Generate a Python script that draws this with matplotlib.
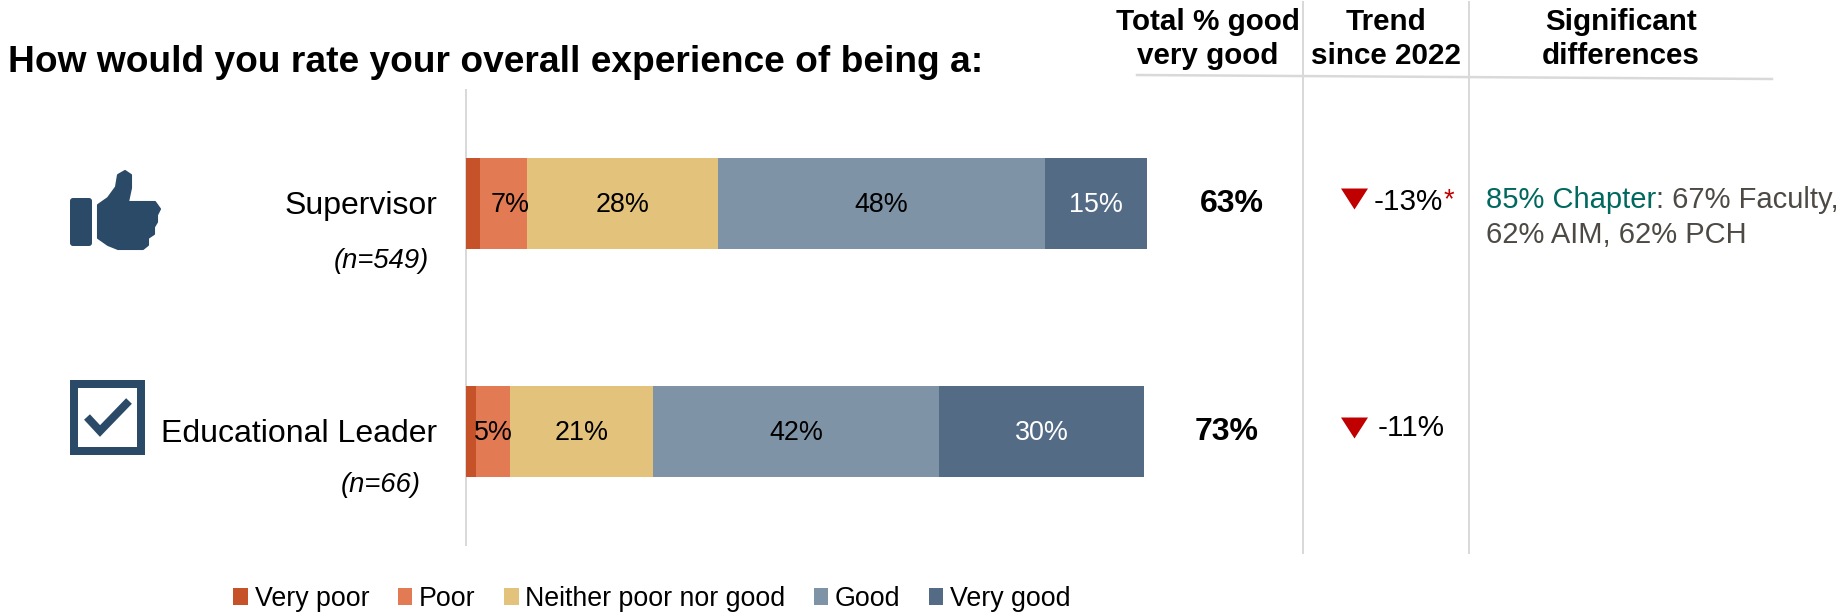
import matplotlib
matplotlib.use("Agg")
import matplotlib.pyplot as plt
from matplotlib.patches import Polygon, Rectangle, FancyBboxPatch

plt.rcParams["font.family"] = ["Liberation Sans", "DejaVu Sans"]

# --- data ---------------------------------------------------------------
ROLES = ["Supervisor", "Educational Leader"]
SAMPLE_SIZES = ["(n=549)", "(n=66)"]
RESPONSES = ["Very poor", "Poor", "Neither poor nor good", "Good", "Very good"]
SUPERVISOR = [2, 7, 28, 48, 15]
EDU_LEADER = [1.5, 5, 21, 42, 30]
TOTAL_GOOD = [63, 73]
TREND = [-13, -11]
TREND_SIGNIFICANT = [True, False]

COLORS = ["#C55228", "#E27A53", "#E3C27B", "#7F93A6", "#536B85"]
LABEL_COLORS = ["black", "black", "black", "black", "white"]
ICON_COLOR = "#2B4A67"
RULE_COLOR = "#D9D9D9"
RED = "#C00000"
W, H = 1844, 616

fig = plt.figure(figsize=(W / 100, H / 100), dpi=100, facecolor="white")

# overlay in pixel units for headers, icons and side columns
over = fig.add_axes([0, 0, 1, 1])
over.set_xlim(0, W)
over.set_ylim(H, 0)
over.axis("off")

# stacked bars
ax = fig.add_axes([466 / W, 1 - 545 / H, 681 / W, 455 / H])
ax.set_xlim(0, 100)
ax.set_ylim(545, 90)
ax.axis("off")
ax.patch.set_alpha(0)

rows = [SUPERVISOR, EDU_LEADER]
row_y = [203.5, 431.5]
label_shift = {(0, 1): 1.0}
for r, (vals, y) in enumerate(zip(rows, row_y)):
    left = 0
    for i, v in enumerate(vals):
        ax.barh(y, v, left=left, height=91, color=COLORS[i], linewidth=0,
                label=RESPONSES[i] if r == 0 else None)
        if i > 0:
            ax.text(left + v / 2 + label_shift.get((r, i), 0), y - 1, f"{v}%", ha="center",
                    va="center_baseline", fontsize=19.4, color=LABEL_COLORS[i])
        left += v

# title and column headers
over.text(8, 58, "How would you rate your overall experience of being a:", fontsize=26.75,
          fontweight="bold", va="center_baseline")
over.text(1208, 39, "Total % good\nvery good", fontsize=21.3, fontweight="bold", ha="center",
          va="center", linespacing=1.3)
over.text(1386, 39, "Trend\nsince 2022", fontsize=21.3, fontweight="bold", ha="center",
          va="center", linespacing=1.3)
over.text(1621, 39, "Significant\ndifferences", fontsize=21.3, fontweight="bold", ha="center",
          va="center", linespacing=1.3)

# rules between columns
px = 0.72
over.plot([466, 466], [90, 545], color=RULE_COLOR, lw=2 * px)
over.plot([1303, 1303], [2, 553], color=RULE_COLOR, lw=2 * px)
over.plot([1469, 1469], [2, 553], color=RULE_COLOR, lw=2 * px)
over.plot([1137, 1772], [75, 79], color=RULE_COLOR, lw=2.5 * px)

# row labels
name_right = [437, 437]
n_center = [381, 381]
for i, y in enumerate(row_y):
    over.text(name_right[i], y - 1, ROLES[i], fontsize=23, ha="right", va="center_baseline")
    over.text(n_center[i], y + 54 - (3 if i else 0), SAMPLE_SIZES[i], fontsize=19.7,
              style="italic", ha="center", va="center_baseline")

# totals and trend
trend_x = [1374, 1378]
for i, y in enumerate(row_y):
    over.text(1232 - 5 * i, y - 3, f"{TOTAL_GOOD[i]}%", fontsize=23, fontweight="bold",
              ha="center", va="center_baseline")
    over.add_patch(Polygon([(1341, y - 15 + i), (1368, y - 15 + i), (1354.5, y + 6 + i)],
                           closed=True, color=RED, linewidth=0))
    t = over.text(trend_x[i], y - 5 - i, f"{TREND[i]}%", fontsize=21.3, ha="left",
                  va="center_baseline")
    if TREND_SIGNIFICANT[i]:
        over.annotate("*", xy=(1, 1), xycoords=t, ha="left", va="top", fontsize=19.5, color=RED)

# significant differences column
first = over.text(1486, 208, "85% Chapter", fontsize=21, color="#00695F", va="baseline")
over.annotate(": 67% Faculty,", xy=(1, 0), xycoords=first, ha="left", va="bottom",
              fontsize=21, color="#4D4A45")
over.text(1486, 243, "62% AIM, 62% PCH", fontsize=21, color="#4D4A45", va="baseline")

# thumbs-up icon
over.add_patch(FancyBboxPatch((70, 198), 22, 48, boxstyle="round,pad=0,rounding_size=3",
                              color=ICON_COLOR, linewidth=0))
thumb = [(98, 205), (108, 198), (116, 187), (118, 175), (125, 171), (131, 175), (131, 188),
         (128, 202), (155, 202), (160, 209), (157, 215), (157, 222), (154, 227), (154, 234),
         (148, 238), (148, 245), (143, 249), (118, 249), (108, 245), (98, 238)]
over.add_patch(Polygon(thumb, closed=True, facecolor=ICON_COLOR, edgecolor=ICON_COLOR,
                       linewidth=1.5, joinstyle="round"))

# check-box icon
over.add_patch(Rectangle((74, 384), 67, 67, fill=False, edgecolor=ICON_COLOR, linewidth=8 * px))
over.plot([87, 100, 129], [417, 431, 401], color=ICON_COLOR, lw=8 * px, solid_joinstyle="miter",
          solid_capstyle="butt")

# legend along the bottom
fig.legend(*ax.get_legend_handles_labels(), loc="center", bbox_to_anchor=(652 / W, 1 - 599 / H),
           ncol=5, frameon=False, fontsize=19.3, handlelength=0.55, handleheight=0.55,
           handletextpad=0.25, columnspacing=1.05, borderpad=0)

fig.savefig("out.png", dpi=100)
